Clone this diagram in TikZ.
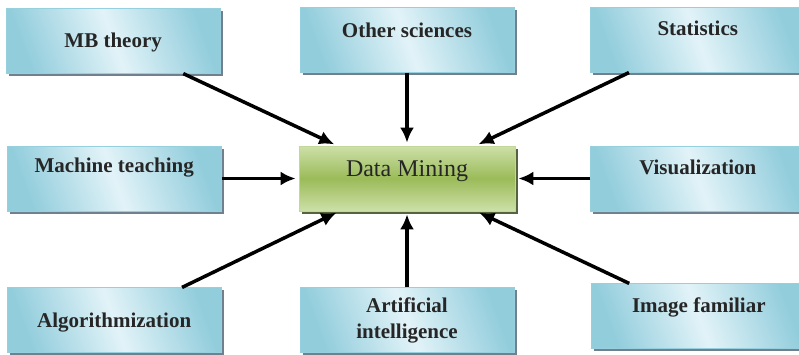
\documentclass[tikz,border=0pt]{standalone}
\usepackage{fontspec}
\setmainfont{Liberation Serif}
\usepackage{xcolor}
\usetikzlibrary{positioning,shadows,arrows.meta}

\definecolor{srcedge}{RGB}{146,205,220}
\definecolor{srclight}{RGB}{226,243,248}
\definecolor{srcline}{RGB}{150,208,222}
\definecolor{srcshadow}{RGB}{112,128,142}
\definecolor{dmgreen}{RGB}{155,187,89}
\definecolor{dmlight}{RGB}{205,224,168}
\definecolor{dmline}{RGB}{195,214,155}
\definecolor{dmshadow}{RGB}{84,100,62}

\begin{document}
\begin{tikzpicture}[
    node distance = 75pt,
    src/.style = {rectangle, draw=srcline, line width=0.8pt,
        left color=srcedge, right color=srcedge, middle color=srclight, shading angle=110,
        drop shadow={shadow xshift=2.5pt, shadow yshift=-2.5pt, fill=srcshadow, opacity=1},
        minimum width=214pt, minimum height=65pt, align=center,
        font=\fontsize{21}{26}\selectfont\bfseries, text=black!85},
    hub/.style = {rectangle, draw=dmline, line width=0.8pt,
        top color=dmlight, bottom color=dmlight, middle color=dmgreen,
        drop shadow={shadow xshift=3pt, shadow yshift=-3pt, fill=dmshadow, opacity=1},
        minimum width=216pt, minimum height=65pt,
        font=\fontsize{24}{28}\selectfont, text=black!85},
    lift/.style = {text height=14pt, text depth=#1},
    arr/.style = {line width=3.5pt, -{Latex[length=15pt,width=14pt]}, shorten >=3pt}
]

\useasboundingbox (-407pt,-175.5pt) rectangle (392pt,178.5pt);

\node[hub, text height=16pt, text depth=21pt] (dm) {Data Mining};

\node[src, lift=0pt, above left=72pt and 78pt of dm] (mb) {MB theory};
\node[src, lift=18pt, above=73pt of dm] (os) {Other sciences};
\node[src, lift=22pt, above right=73pt and 75pt of dm] (st) {Statistics};

\node[src, lift=27pt, left=77pt of dm] (mt) {Machine teaching};
\node[src, lift=22pt, right=of dm] (vi) {Visualization};

\node[src, lift=0pt, below left=76pt and 77pt of dm] (al) {Algorithmization};
\node[src, below=76pt of dm] (ai) {Artificial\\intelligence};
\node[src, lift=21pt, below right=72pt and 76pt of dm] (im) {Image familiar};

\draw[arr] (mb) -- (dm);
\draw[arr] (os) -- (dm);
\draw[arr] (st) -- (dm);
\draw[arr] (mt) -- (dm);
\draw[arr] (vi) -- (dm);
\draw[arr] (al) -- (dm);
\draw[arr] (ai) -- (dm);
\draw[arr] (im) -- (dm);

\end{tikzpicture}
\end{document}
